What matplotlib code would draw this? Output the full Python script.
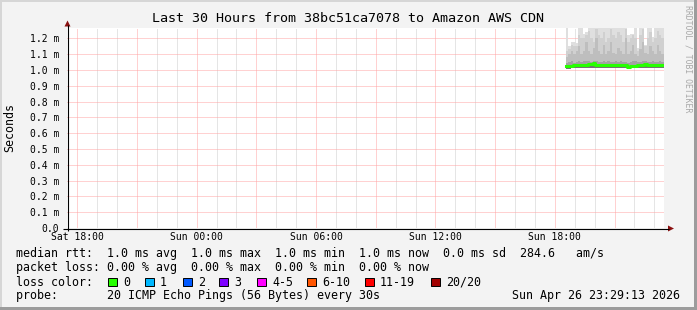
import datetime as dt
import numpy as np
import matplotlib
matplotlib.use("Agg")
import matplotlib.pyplot as plt
import matplotlib.dates as mdates
from matplotlib.ticker import FuncFormatter
from matplotlib.patches import Rectangle, Polygon

# --- chart data ---
title = "Last 30 Hours from 38bc51ca7078 to Amazon AWS CDN"
t_end = dt.datetime(2026, 4, 26, 23, 29, 13)
t_start = t_end - dt.timedelta(hours=30)
smoke_start = dt.datetime(2026, 4, 26, 18, 33)
step_min = 7.4

# ping distribution per bucket (ms)
ping_low = [1.005, 1.008, 1.010, 1.010, 1.010, 1.012, 1.012, 1.015, 1.015, 1.015,
            1.012, 1.015, 1.015, 1.012, 1.012, 1.015, 1.015, 1.012, 1.012, 1.015,
            1.015, 1.012, 1.012, 1.012, 1.010, 1.005, 1.010, 1.012, 1.012, 1.012,
            1.012, 1.012, 1.015, 1.012, 1.012, 1.012, 1.010, 1.012, 1.012, 1.012]
ping_median = [1.025, 1.025, 1.028, 1.030, 1.030, 1.030, 1.030, 1.034, 1.034, 1.036,
               1.036, 1.042, 1.034, 1.034, 1.034, 1.034, 1.034, 1.034, 1.034, 1.034,
               1.034, 1.034, 1.034, 1.034, 1.034, 1.022, 1.028, 1.028, 1.028, 1.030,
               1.030, 1.030, 1.040, 1.032, 1.032, 1.032, 1.030, 1.032, 1.032, 1.032]
ping_q65 = [1.045, 1.050, 1.055, 1.045, 1.050, 1.060, 1.050, 1.055, 1.060, 1.055,
            1.050, 1.060, 1.055, 1.048, 1.052, 1.060, 1.050, 1.055, 1.048, 1.052,
            1.060, 1.050, 1.055, 1.048, 1.052, 1.045, 1.050, 1.055, 1.060, 1.050,
            1.048, 1.055, 1.060, 1.052, 1.050, 1.055, 1.048, 1.052, 1.055, 1.048]
ping_q80 = [1.08, 1.10, 1.12, 1.10, 1.12, 1.15, 1.10, 1.12, 1.18, 1.12,
            1.10, 1.14, 1.20, 1.12, 1.10, 1.16, 1.10, 1.12, 1.18, 1.11,
            1.10, 1.14, 1.12, 1.10, 1.20, 1.10, 1.12, 1.16, 1.10, 1.09,
            1.13, 1.18, 1.11, 1.10, 1.15, 1.12, 1.10, 1.16, 1.12, 1.10]
ping_q90 = [1.12, 1.13, 1.16, 1.15, 1.15, 1.22, 1.20, 1.20, 1.22, 1.25,
            1.20, 1.18, 1.26, 1.22, 1.20, 1.24, 1.18, 1.20, 1.26, 1.22,
            1.20, 1.24, 1.22, 1.18, 1.26, 1.18, 1.20, 1.22, 1.20, 1.12,
            1.22, 1.26, 1.15, 1.20, 1.24, 1.18, 1.20, 1.25, 1.22, 1.20]
ping_max = [1.30, 1.15, 1.18, 1.18, 1.17, 1.30, 1.30, 1.23, 1.24, 1.30,
            1.30, 1.30, 1.30, 1.30, 1.30, 1.30, 1.30, 1.30, 1.30, 1.30,
            1.30, 1.30, 1.30, 1.30, 1.30, 1.22, 1.23, 1.23, 1.30, 1.14,
            1.30, 1.30, 1.16, 1.30, 1.30, 1.21, 1.30, 1.30, 1.30, 1.30]

y_ticks = [0.0, 0.1, 0.2, 0.3, 0.4, 0.5, 0.6, 0.7, 0.8, 0.9, 1.0, 1.1, 1.2]

rtt_line = "median rtt:  1.0 ms avg  1.0 ms max  1.0 ms min  1.0 ms now  0.0 ms sd  284.6   am/s"
loss_line = "packet loss: 0.00 % avg  0.00 % max  0.00 % min  0.00 % now"
probe_line = "probe:       20 ICMP Echo Pings (56 Bytes) every 30s"
stamp = "Sun Apr 26 23:29:13 2026"
loss_labels = ["0", "1", "2", "3", "4-5", "6-10", "11-19", "20/20"]
loss_colors = ["#26ff00", "#00b8ff", "#0059ff", "#7e00ff", "#ff00ff",
               "#ff5500", "#ff0000", "#a10000"]
loss_box_x = [108, 145, 183, 219, 257, 307, 365, 431]

W, H = 697, 310
MONO = "DejaVu Sans Mono"
plt.rcParams["font.family"] = MONO

fig = plt.figure(figsize=(W / 100, H / 100), dpi=100)
fig.patch.set_facecolor("#f3f3f3")

# plot area in pixel coords
px_l, px_r, px_t, px_b = 67, 664, 28, 228
ax = fig.add_axes([px_l / W, 1 - px_b / H, (px_r - px_l) / W, (px_b - px_t) / H])
ax.set_facecolor("white")
for s in ax.spines.values():
    s.set_visible(False)

# smoke
times = [smoke_start + dt.timedelta(minutes=step_min * i) for i in range(len(ping_median) + 1)]
tn = mdates.date2num(times)

def ext(a):
    return list(a) + [a[-1]]

bands = [
    (ping_low, ping_median, "#747474"),
    (ping_median, ping_q65, "#a2a2a2"),
    (ping_q65, ping_q80, "#bebebe"),
    (ping_q80, ping_q90, "#d0d0d0"),
    (ping_q90, ping_max, "#dfdfdf"),
]
for lo, hi, c in bands:
    ax.fill_between(tn, ext(lo), ext(hi), step="post", color=c, lw=0, zorder=2)

ax.step(tn, ext(ping_median), where="post", color="#26ff00", lw=2.2, zorder=4)

ax.set_xlim(mdates.date2num(t_start), mdates.date2num(t_end))
ax.set_ylim(0, 1.266)

ax.xaxis.set_major_locator(mdates.HourLocator(byhour=range(0, 24, 3)))
ax.xaxis.set_minor_locator(mdates.HourLocator())

def xfmt(x, pos):
    d = mdates.num2date(x)
    return d.strftime("%a %H:%M") if d.hour % 6 == 0 else ""

ax.xaxis.set_major_formatter(FuncFormatter(xfmt))
ax.set_yticks(y_ticks)
ax.yaxis.set_major_formatter(FuncFormatter(lambda v, p: "0.0" if v == 0 else f"{v:.1f} m"))

grid_kw = dict(lw=0.72, ls=(0, (1, 1)), zorder=1)
ax.grid(which="minor", axis="x", color="#cdcdcd", **grid_kw)
ax.grid(which="major", axis="x", color="#ffa4a4", **grid_kw)
ax.grid(which="major", axis="y", color="#ffa4a4", **grid_kw)
ax.set_axisbelow(True)
ax.tick_params(which="both", length=0)
ax.tick_params(axis="x", pad=3, labelsize=7)
ax.tick_params(axis="y", pad=5.8, labelsize=7)

# overlay in pixel coordinates for frame, axes arrows and legend
ov = fig.add_axes([0, 0, 1, 1], zorder=10)
ov.set_xlim(0, W)
ov.set_ylim(H, 0)
ov.axis("off")
ov.patch.set_alpha(0)

ov.add_patch(Rectangle((0, 0), W, 2, color="#d6d6d6", lw=0))
ov.add_patch(Rectangle((0, 0), 2, H, color="#d6d6d6", lw=0))
ov.add_patch(Rectangle((0, H - 3), W, 3, color="#9c9c9c", lw=0))
ov.add_patch(Rectangle((W - 3, 0), 3, H, color="#9c9c9c", lw=0))

ov.plot([67.5, 67.5], [231, 25], color="#000000", lw=0.8, solid_capstyle="butt")
ov.plot([63, 669], [228.5, 228.5], color="#000000", lw=0.8, solid_capstyle="butt")
ov.add_patch(Polygon([(64.5, 26.5), (70.5, 26.5), (67.5, 20.5)], color="#8b1010", lw=0))
ov.add_patch(Polygon([(668, 225.5), (668, 231.5), (674, 228.5)], color="#8b1010", lw=0))

ov.text(348, 19, title, ha="center", va="center", fontsize=9.6, family=MONO)
ov.text(10, 128, "Seconds", ha="center", va="center", rotation=90, fontsize=8.4, family=MONO)
ov.text(688, 59, "RRDTOOL / TOBI OETIKER", ha="center", va="center", rotation=270,
        fontsize=5.9, color="#a8a8a8", family=MONO)

fs = 8.4
ov.text(16, 254, rtt_line, ha="left", va="center", fontsize=fs, family=MONO)
ov.text(16, 268, loss_line, ha="left", va="center", fontsize=fs, family=MONO)
ov.text(16, 282, "loss color:", ha="left", va="center", fontsize=fs, family=MONO)
for bx, lab, col in zip(loss_box_x, loss_labels, loss_colors):
    ov.add_patch(Rectangle((bx, 277.5), 8.5, 8.5, facecolor=col, edgecolor="black", lw=0.7))
    ov.text(bx + 15, 282, lab, ha="left", va="center", fontsize=fs, family=MONO)
ov.text(16, 296, probe_line, ha="left", va="center", fontsize=fs, family=MONO)
ov.text(680, 296, stamp, ha="right", va="center", fontsize=fs, family=MONO)

fig.savefig("out.png", dpi=100, facecolor=fig.get_facecolor())
